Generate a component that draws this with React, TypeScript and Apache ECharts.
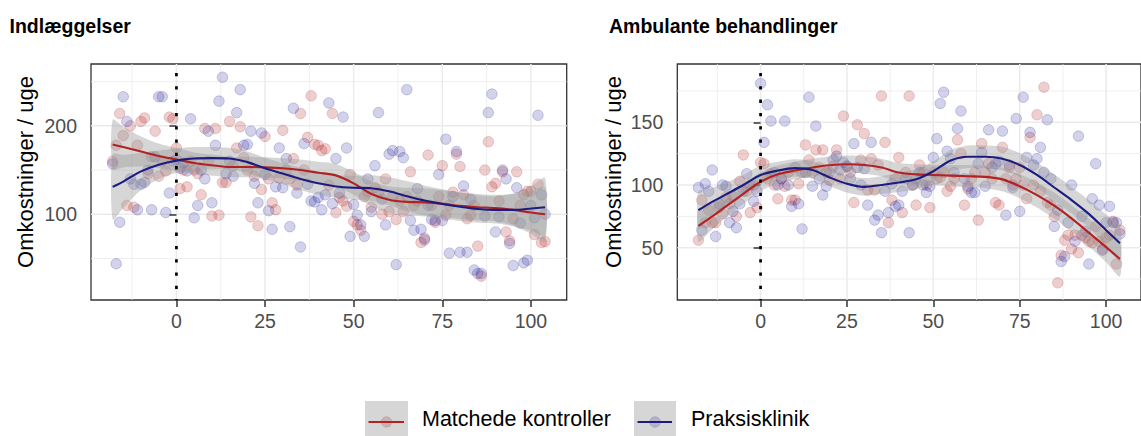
import { useEffect, useRef } from "react";
import * as echarts from "echarts";

// Weeks run from -18 (before visit) to 104
const FIRST_WEEK = -18;

// Indlæggelser: weekly cost per person
const indlKontrol = [
  160, 178, 214, 189, 110, 200, 108, 178, 205, 209,
  146, 165, 194, 143, 160, 149, 210, 208, 175, 129,
  150, 131, 160, 150, 146, 122, 197, 160, 98, 197,
  99, 136, 136, 205, 155, 175, 199, 164, 150, 97,
  143, 87, 128, 188, 140, 113, 105, 141, 195, 150,
  140, 163, 133, 214, 150, 187, 234, 179, 178, 172,
  174, 133, 214, 102, 119, 115, 109, 145, 92, 88,
  82, 120, 125, 108, 130, 125, 100, 140, 103, 120,
  94, 115, 103, 120, 148, 110, 115, 68, 73, 167,
  110, 91, 120, 155, 99, 110, 125, 168, 154, 122,
  95, 99, 110, 64, 30, 150, 182, 131, 135, 115,
  148, 80, 70, 95, 148, 110, 122, 126, 126, 77,
  134, 68, 69,
];
const indlPraksis = [
  157, 44, 91, 233, 205, 140, 134, 105, 134, 136,
  150, 105, 165, 233, 233, 102, 124, 160, 162, 152,
  158, 149, 208, 96, 110, 150, 140, 194, 113, 178,
  228, 255, 146, 160, 143, 215, 241, 178, 179, 194,
  135, 113, 192, 145, 104, 83, 131, 175, 130, 163,
  86, 220, 124, 63, 180, 134, 115, 114, 119, 105,
  122, 226, 112, 163, 124, 210, 175, 75, 111, 99,
  88, 75, 140, 103, 155, 215, 117, 88, 168, 172,
  43, 171, 164, 241, 93, 82, 129, 83, 71, 110,
  94, 93, 145, 93, 185, 56, 120, 171, 57, 132,
  57, 117, 37, 33, 33, 98, 215, 236, 80, 97,
  150, 140, 67, 42, 130, 90, 45, 48, 110, 96,
  212, 122, 100,
];

// Ambulante behandlinger: weekly cost per person
const ambKontrol = [
  56, 88, 70, 80, 70, 70, 82, 77, 90, 85,
  91, 75, 103, 124, 95, 78, 100, 82, 118, 117,
  105, 109, 100, 89, 105, 99, 110, 88, 88, 101,
  110, 132, 120, 110, 128, 114, 128, 110, 104, 115,
  128, 105, 155, 115, 110, 86, 148, 120, 141, 96,
  121, 96, 116, 171, 134, 70, 88, 105, 122, 78,
  110, 171, 100, 84, 116, 110, 100, 82, 110, 105,
  106, 110, 95, 99, 105, 136, 125, 84, 97, 105,
  110, 72, 133, 110, 117, 105, 86, 84, 130, 105,
  114, 100, 105, 114, 100, 89, 138, 100, 156, 95,
  178, 86, 84, 75, 22, 44, 56, 60, 49, 60,
  46, 60, 58, 55, 54, 67, 55, 49, 58, 60,
  71, 37, 64,
];
const ambPraksis = [
  98, 64, 101, 95, 112, 59, 85, 100, 99, 70,
  79, 66, 85, 95, 109, 100, 87, 95, 181, 134,
  164, 151, 110, 100, 105, 151, 100, 83, 114, 85,
  65, 110, 170, 99, 147, 105, 92, 99, 110, 120,
  123, 112, 118, 115, 105, 133, 114, 100, 113, 84,
  134, 72, 76, 62, 95, 78, 101, 83, 84, 95,
  105, 62, 100, 105, 110, 100, 94, 99, 122, 137,
  165, 174, 127, 121, 110, 145, 159, 105, 99, 94,
  94, 117, 126, 99, 144, 114, 117, 119, 143, 76,
  116, 98, 153, 79, 170, 122, 142, 116, 121, 130,
  110, 152, 105, 67, 80, 39, 43, 70, 100, 55,
  139, 75, 63, 37, 89, 117, 84, 48, 70, 83,
  70, 70, 61,
];

// Loess trend and half-width of its confidence band, at these weeks
const smoothWeeks = [
  -18, -15, -10, -5, 0, 5, 10, 15, 20, 25, 30, 35, 40,
  45, 50, 55, 60, 65, 70, 75, 80, 85, 90, 95, 100, 104,
];
const indlKontrolFit = [
  179, 176, 171, 166, 162, 158, 155.5, 153.5, 153.5, 153, 152, 150, 147,
  144, 135, 123, 116.5, 114, 113.5, 112, 109.5, 108, 107, 105, 102, 100,
];
const indlKontrolSe = [
  28, 23, 17, 14, 13, 12, 12, 11.5, 11.5, 11.5, 11.5, 12, 12.5,
  13, 13, 14, 15, 16, 16, 15.5, 15, 15, 15, 18, 24, 31,
];
const indlPraksisFit = [
  131, 137, 148.5, 156, 160.7, 163, 163.5, 163, 159, 152, 146, 140, 135,
  131.5, 130, 129.5, 126, 120.5, 115.5, 111.7, 108.5, 106, 105, 105, 106.5, 108,
];
const indlPraksisSe = [
  37, 30, 21, 16, 14, 13, 12.5, 12, 12, 12, 12, 12.5, 13,
  13, 13.5, 14.5, 16, 17, 17, 16.5, 16, 15.5, 15.5, 18.5, 25, 33,
];
const ambKontrolFit = [
  67.5, 73, 83, 93, 102.6, 108.5, 111.5, 114, 115.8, 116.5, 116, 114, 110,
  108.5, 108, 107.5, 107, 106.5, 104.5, 99, 92, 83.5, 73.4, 62, 50.5, 41,
];
const ambKontrolSe = [
  13, 11, 9, 8, 7.5, 7, 7, 7, 7, 7, 7, 7, 7.5,
  8, 8, 8.5, 9, 9, 9.5, 9.5, 10, 10.5, 10.5, 11, 12, 14,
];
const ambPraksisFit = [
  80, 85, 92.5, 100, 108, 111.5, 113.5, 112, 106, 101, 98.5, 100, 102,
  104.5, 111, 119.5, 122.5, 122.5, 121, 116, 108, 98, 88, 77, 64, 53.5,
];
const ambPraksisSe = [
  15, 12, 9.5, 8, 7.5, 7, 7, 7, 7, 7, 7, 7, 7.5,
  8, 8, 8.5, 9, 9, 9.5, 9.5, 10, 10.5, 10.5, 11, 12.5, 14.5,
];

// Axis breaks
const xBreaks = [0, 25, 50, 75, 100];
const xMinorBreaks = [-12.5, 12.5, 37.5, 62.5, 87.5];
const indlYBreaks = [100, 200];
const indlYMinorBreaks = [50, 150, 250];
const ambYBreaks = [50, 100, 150];
const ambYMinorBreaks = [25, 75, 125, 175];

const panelTitles = ["Indlæggelser", "Ambulante behandlinger"];
const yTitle = "Omkostninger / uge";
const groupNames = ["Matchede kontroller", "Praksisklinik"];

const FONT = "'Liberation Sans', Arial, Helvetica, sans-serif";
const RED = "#b22222";
const BLUE = "#1c1c80";
const RED_PT = "rgba(178,34,34,0.27)";
const RED_PT_EDGE = "rgba(178,34,34,0.33)";
const BLUE_PT = "rgba(40,40,160,0.26)";
const BLUE_PT_EDGE = "rgba(40,40,160,0.36)";
const BAND = "rgba(153,153,153,0.4)";
const GRID_MAJOR = "#ebebeb";

const X_MIN = -24.1;
const X_MAX = 110.1;

type Panel = {
  kontrol: number[];
  praksis: number[];
  kontrolFit: number[];
  kontrolSe: number[];
  praksisFit: number[];
  praksisSe: number[];
  yMin: number;
  yMax: number;
  yBreaks: number[];
  yMinor: number[];
  grid: { left: number; top: number; width: number; height: number };
};

const panels: Panel[] = [
  {
    kontrol: indlKontrol,
    praksis: indlPraksis,
    kontrolFit: indlKontrolFit,
    kontrolSe: indlKontrolSe,
    praksisFit: indlPraksisFit,
    praksisSe: indlPraksisSe,
    yMin: 3,
    yMax: 270,
    yBreaks: indlYBreaks,
    yMinor: indlYMinorBreaks,
    grid: { left: 91, top: 64, width: 475.7, height: 236 },
  },
  {
    kontrol: ambKontrol,
    praksis: ambPraksis,
    kontrolFit: ambKontrolFit,
    kontrolSe: ambKontrolSe,
    praksisFit: ambPraksisFit,
    praksisSe: ambPraksisSe,
    yMin: 8.3,
    yMax: 196.5,
    yBreaks: ambYBreaks,
    yMinor: ambYMinorBreaks,
    grid: { left: 677.3, top: 64, width: 476, height: 236 },
  },
];

const toPoints = (vals: number[]) => vals.map((v, i) => [FIRST_WEEK + i, v]);

function gridLineSeries(idx: number, p: Panel) {
  return {
    type: "custom",
    xAxisIndex: idx,
    yAxisIndex: idx,
    z: 0,
    silent: true,
    data: [[X_MIN, p.yMin]],
    renderItem: (_params: any, api: any) => {
      const children: any[] = [];
      const vline = (x: number, w: number) => {
        const a = api.coord([x, p.yMin]);
        const b = api.coord([x, p.yMax]);
        children.push({
          type: "line",
          shape: { x1: a[0], y1: a[1], x2: b[0], y2: b[1] },
          style: { stroke: GRID_MAJOR, lineWidth: w },
        });
      };
      const hline = (y: number, w: number) => {
        const a = api.coord([X_MIN, y]);
        const b = api.coord([X_MAX, y]);
        children.push({
          type: "line",
          shape: { x1: a[0], y1: a[1], x2: b[0], y2: b[1] },
          style: { stroke: GRID_MAJOR, lineWidth: w },
        });
      };
      xMinorBreaks.forEach((x) => vline(x, 0.8));
      p.yMinor.forEach((y) => hline(y, 0.8));
      xBreaks.forEach((x) => vline(x, 1.5));
      p.yBreaks.forEach((y) => hline(y, 1.5));
      return { type: "group", children };
    },
  };
}

function bandSeries(idx: number, fit: number[], se: number[], p: Panel) {
  return {
    type: "custom",
    xAxisIndex: idx,
    yAxisIndex: idx,
    z: 3,
    silent: true,
    data: [[smoothWeeks[0], fit[0]]],
    renderItem: (_params: any, api: any) => {
      const upper = smoothWeeks.map((w, i) => api.coord([w, fit[i] + se[i]]));
      const lower = smoothWeeks
        .map((w, i) => api.coord([w, fit[i] - se[i]]))
        .reverse();
      return {
        type: "polygon",
        shape: { points: upper.concat(lower), smooth: 0.25 },
        style: { fill: BAND },
      };
    },
  };
}

function zeroLineSeries(idx: number, p: Panel) {
  return {
    type: "custom",
    xAxisIndex: idx,
    yAxisIndex: idx,
    z: 6,
    silent: true,
    data: [[0, p.yMax]],
    renderItem: (_params: any, api: any) => {
      const a = api.coord([0, p.yMax]);
      const b = api.coord([0, p.yMin]);
      return {
        type: "line",
        shape: { x1: a[0], y1: a[1] + 9, x2: b[0], y2: b[1] },
        style: { stroke: "#000", lineWidth: 2.7, lineDash: [3.3, 10], lineCap: "butt" },
      };
    },
  };
}

function scatterSeries(idx: number, vals: number[], fill: string, edge: string) {
  return {
    type: "scatter",
    xAxisIndex: idx,
    yAxisIndex: idx,
    z: 2,
    silent: true,
    symbol: "circle",
    symbolSize: 10.5,
    data: toPoints(vals),
    itemStyle: { color: fill, borderColor: edge, borderWidth: 0.8 },
  };
}

function trendSeries(idx: number, fit: number[], color: string) {
  return {
    type: "line",
    xAxisIndex: idx,
    yAxisIndex: idx,
    z: 4,
    silent: true,
    smooth: 0.3,
    showSymbol: false,
    data: smoothWeeks.map((w, i) => [w, fit[i]]),
    lineStyle: { color, width: 2.1 },
  };
}

function buildOption() {
  const axisLabelStyle = { fontSize: 19.5, color: "#4d4d4d", fontFamily: FONT };
  const tickStyle = { color: "#333333", width: 1.5 };

  const grids = panels.map((p) => ({
    ...p.grid,
    show: true,
    borderColor: "#333333",
    borderWidth: 1.3,
    backgroundColor: "transparent",
    containLabel: false,
  }));

  const xAxes = panels.map((_, i) => ({
    type: "value",
    gridIndex: i,
    min: X_MIN,
    max: X_MAX,
    splitLine: { show: false },
    axisLine: { show: false },
    axisTick: { show: true, customValues: xBreaks, length: 7, lineStyle: tickStyle },
    axisLabel: { ...axisLabelStyle, customValues: xBreaks, margin: 11 },
  }));

  const yAxes = panels.map((p, i) => ({
    type: "value",
    gridIndex: i,
    min: p.yMin,
    max: p.yMax,
    splitLine: { show: false },
    axisLine: { show: false },
    axisTick: { show: true, customValues: p.yBreaks, length: 7, lineStyle: tickStyle },
    axisLabel: { ...axisLabelStyle, customValues: p.yBreaks, margin: 14 },
  }));

  const series: any[] = [];
  panels.forEach((p, i) => {
    series.push(gridLineSeries(i, p));
    series.push(scatterSeries(i, p.kontrol, RED_PT, RED_PT_EDGE));
    series.push(scatterSeries(i, p.praksis, BLUE_PT, BLUE_PT_EDGE));
    series.push(bandSeries(i, p.kontrolFit, p.kontrolSe, p));
    series.push(bandSeries(i, p.praksisFit, p.praksisSe, p));
    series.push(trendSeries(i, p.kontrolFit, RED));
    series.push(trendSeries(i, p.praksisFit, BLUE));
    series.push(zeroLineSeries(i, p));
  });

  const text = (
    str: string,
    x: number,
    y: number,
    size: number,
    opts: Record<string, any> = {}
  ) => ({
    type: "text",
    x,
    y,
    rotation: opts.rotation || 0,
    silent: true,
    z: 10,
    style: {
      text: str,
      fontFamily: FONT,
      fontSize: size,
      fontWeight: opts.bold ? "bold" : "normal",
      fill: opts.fill || "#000",
      align: opts.align || "left",
      verticalAlign: "middle",
      textAlign: opts.align || "left",
      textVerticalAlign: "middle",
    },
  });

  const legendKeys = [
    { label: groupNames[0], x: 365, w: 43, line: RED, pt: RED_PT, edge: RED_PT_EDGE },
    { label: groupNames[1], x: 634, w: 42, line: BLUE, pt: BLUE_PT, edge: BLUE_PT_EDGE },
  ];
  const legendElements: any[] = [];
  legendKeys.forEach((k) => {
    const cx = k.x + k.w / 2;
    legendElements.push({
      type: "circle",
      silent: true,
      z: 10,
      shape: { cx, cy: 422, r: 5.2 },
      style: { fill: k.pt, stroke: k.edge, lineWidth: 0.8 },
    });
    legendElements.push({
      type: "rect",
      silent: true,
      z: 10,
      shape: { x: k.x, y: 401, width: k.w, height: 42 },
      style: { fill: BAND },
    });
    legendElements.push({
      type: "line",
      silent: true,
      z: 11,
      shape: { x1: k.x + 3.5, y1: 422, x2: k.x + k.w - 4, y2: 422 },
      style: { stroke: k.line, lineWidth: 2.1 },
    });
    legendElements.push(text(k.label, k.x + 57, 419, 21.5));
  });

  const graphic = [
    text(panelTitles[0], 9.5, 25.5, 19.5, { bold: true }),
    text(panelTitles[1], 609, 25.5, 19.5, { bold: true }),
    text(yTitle, 25, 172, 22, { rotation: Math.PI / 2, align: "center" }),
    text(yTitle, 613.5, 172, 22, { rotation: Math.PI / 2, align: "center" }),
    ...legendElements,
  ];

  return {
    animation: false,
    backgroundColor: "#ffffff",
    grid: grids,
    xAxis: xAxes,
    yAxis: yAxes,
    series,
    graphic,
  };
}

export default function App() {
  const ref = useRef<HTMLDivElement>(null);

  useEffect(() => {
    if (!ref.current) return;
    const chart = echarts.init(ref.current, undefined, { renderer: "svg" });
    chart.setOption(buildOption() as any);
    return () => chart.dispose();
  }, []);

  return (
    <div
      ref={ref}
      style={{ position: "fixed", left: 0, top: 0, width: 1141, height: 436 }}
    />
  );
}
